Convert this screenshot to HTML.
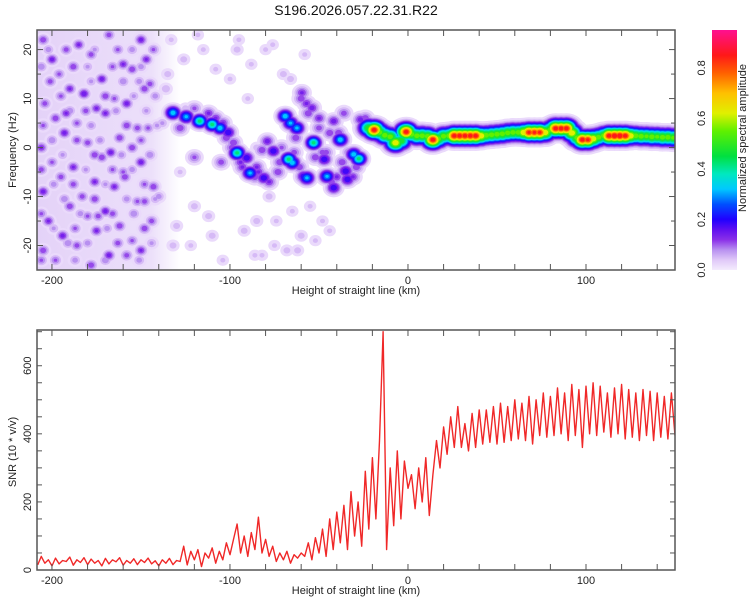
<!DOCTYPE html>
<html><head><meta charset="utf-8"><style>
html,body{margin:0;padding:0;background:#fff;}
svg{display:block;font-family:"Liberation Sans",sans-serif;}
</style></head><body>
<svg id="chart" width="750" height="600" viewBox="0 0 750 600">
<text x="356" y="15" font-size="14" text-anchor="middle" fill="#111">S196.2026.057.22.31.R22</text>
<defs>
<clipPath id="clipTop"><rect x="37" y="30" width="638" height="240"/></clipPath>
<clipPath id="clipBot"><rect x="37" y="330" width="638" height="240"/></clipPath>
<linearGradient id="cbGrad" x1="0" y1="1" x2="0" y2="0"></linearGradient>
<linearGradient id="hazeGrad" x1="0" y1="0" x2="1" y2="0">
<stop offset="0" stop-color="#e4d2f8"/><stop offset="0.8" stop-color="#ece0fa"/><stop offset="1" stop-color="#ffffff"/></linearGradient>
</defs>
<g id="topPlot">
<g clip-path="url(#clipTop)" id="heat">
<rect id="haze" y="30" height="240" fill="url(#hazeGrad)"/>
</g>
<g id="topAxes"></g>
</g>
<g id="cbar"></g>
<g id="botPlot">
<g clip-path="url(#clipBot)"><polyline id="snrLine" fill="none" stroke="#f02828" stroke-width="1.4" stroke-linejoin="round"/></g>
<g id="botAxes"></g>
</g>
</svg>
<script>
// ---------- data ----------
const xDomain = [-208.4, 150];
const fDomain = [-25, 24];
const snrDomain = [0, 705];
const cbDomain = [0, 0.95];
const xTickLabels = [-200, -100, 0, 100];
const fTickLabels = [-20, -10, 0, 10, 20];
const snrTickLabels = [0, 200, 400, 600];
const cbTickLabels = [0.0, 0.2, 0.4, 0.6, 0.8];

// noise blobs (km, Hz, amplitude)
const noiseKm = [-205,-185,-168,-150,-143,-200,-178,-160,-196,-172,-155,-145,-190,-182,-165,-148,-204,-175,-158,-198,-186,-170,-152,-193,-162,-146,-206,-180,-167,-155,-200,-188,-172,-150,-195,-176,-160,-143,-205,-183,-165,-152,-190,-170,-148,-202,-180,-162,-144,-194,-175,-155,-205,-186,-168,-150,-198,-178,-158,-192,-159,-174,-147,
 -202,-192,-176,-163,-155,-206,-188,-180,-166,-150,-201,-178,-160,-151,-195,-170,-154,-142,-190,-181,-164,-147,-205,-178,-158,-141,-200,-186,-173,-150,-194,-176,-161,-145,-206,-181,-166,-155,-199,-188,-170,-148,-193,-176,-158,-142,-206,-184,-166,-154,-199,-187,-169,-148,-191,-180,-163,-144,-206,-187,-170,-151,
 -135,-128,-120,-115,-110,-90,-85,-80,-78,-75,-70,-65,-60,-55,-48,-85,-100,-125,-140,-138,-82,-68,-95,-132,
 -133,-126,-118,-108,-96,-88,-76,-66,-58,-130,-122,-112,-104,-92,-86,-74,-62,-52,-44,-136];
const noiseHz = [22,21,23,22,20,18,19,17,15,14,16,13,12,11,10,12,9,8,9,6,5,7,4,3,2,4,0,1,-1,0,-3,-4,-2,-3,-6,-7,-5,-8,-9,-10,-8,-11,-12,-13,-11,-15,-14,-16,-15,-18,-17,-19,-21,-20,-22,-21,-23,-24,-22,7,-6,-14,18,
 20,20,20,20,20,16.5,16.5,16.5,16.5,16.5,13.5,13.5,13.5,13.5,10.5,10.5,10.5,10.5,7.5,7.5,7.5,7.5,4.5,4.5,4.5,4.5,1.5,1.5,1.5,1.5,-1.5,-1.5,-1.5,-1.5,-4.5,-4.5,-4.5,-4.5,-7.5,-7.5,-7.5,-7.5,-10.5,-10.5,-10.5,-10.5,-13.5,-13.5,-13.5,-13.5,-16.5,-16.5,-16.5,-16.5,-19.5,-19.5,-19.5,-19.5,-23,-23,-23,-23,
 15,-5,-12,20,-18,10,-15,20,-10,-20,15,-13,-18,-12,-15,0,14,8,-10,5,-22,-21,22,-20,
 22,18,23,16,20,17,21,14,19,-16,-20,-14,-23,-17,-22,-15,-21,-19,-17,12];
const noiseAmp = [0.14,0.15,0.13,0.16,0.12,0.16,0.13,0.15,0.12,0.16,0.14,0.13,0.15,0.17,0.12,0.14,0.13,0.15,0.16,0.14,0.12,0.15,0.13,0.16,0.14,0.12,0.15,0.13,0.16,0.14,0.12,0.15,0.14,0.16,0.13,0.15,0.12,0.14,0.16,0.13,0.15,0.12,0.14,0.16,0.13,0.15,0.12,0.14,0.13,0.16,0.15,0.12,0.14,0.13,0.16,0.15,0.12,0.14,0.13,0.15,0.14,0.13,0.15,
 0.1,0.13,0.09,0.12,0.1,0.11,0.14,0.09,0.12,0.1,0.13,0.09,0.11,0.1,0.12,0.14,0.09,0.1,0.11,0.13,0.1,0.09,0.12,0.1,0.14,0.09,0.11,0.13,0.1,0.12,0.09,0.14,0.1,0.11,0.13,0.09,0.12,0.1,0.1,0.13,0.09,0.12,0.11,0.14,0.1,0.09,0.12,0.1,0.13,0.11,0.09,0.12,0.1,0.14,0.11,0.1,0.13,0.09,0.12,0.1,0.11,0.1,
 0.07,0.06,0.07,0.06,0.07,0.06,0.07,0.06,0.07,0.06,0.07,0.06,0.07,0.06,0.06,0.07,0.06,0.07,0.1,0.09,0.06,0.07,0.06,0.07,
 0.06,0.07,0.06,0.06,0.07,0.06,0.06,0.07,0.06,0.07,0.06,0.07,0.06,0.07,0.06,0.06,0.07,0.06,0.06,0.08];

// wavy ridge blobs
const ridgeKm = [-132,-124.6,-117,-110,-105.6,-101,-96,-90.6,-88.7,-81,-79,-75.6,-69,-66,-62.4,-67,-65,-58.6,-56.8,-59.6,-54,-53,-47,-45.5,-41.7,-41.7,-38,-35,-34,-30.5,-27.6,-26.7,
 -128,-112,-104,-98,-93,-85,-78,-73,-63,-57,-50,-52,-44,-40,-37,-31,-25,-36,-82,-120,-105,-61,-48,-72,
 -120,-114,-108,-102,-99,-94,-86,-84,-71,-64,-60,-56,-50,-46,-43,-39,-33,-29,-24];
const ridgeHz = [7.1,6.3,5.4,4.7,4.0,3.1,-1.1,-2.1,-5.2,-6.2,1.3,-0.7,6.4,5.0,4.0,-2.4,-3.1,-5.9,-6.2,11.2,8.1,1.0,-2.4,-5.9,-8.2,5.4,1.6,-4.8,-6.5,-1.4,-2.3,5.7,
 4,7,5,1,-4,-4,-7,-5,2,9,6,-2,3,-6,-3,-6,4,7,-0.5,-2,-3,-4,-1,-3,
 8,6,6,2,0,-3,-6,-5,0,-1,10,7,4,-1,-7,3,-1,-4,6];
const ridgeAmp = [0.36,0.34,0.45,0.45,0.36,0.22,0.45,0.22,0.34,0.22,0.16,0.22,0.36,0.34,0.34,0.45,0.36,0.22,0.34,0.15,0.16,0.45,0.22,0.34,0.22,0.16,0.36,0.22,0.22,0.36,0.45,0.16,
 0.14,0.15,0.15,0.14,0.15,0.15,0.15,0.14,0.14,0.15,0.15,0.14,0.14,0.15,0.14,0.15,0.15,0.13,0.14,0.12,0.13,0.14,0.13,0.14,
 0.12,0.14,0.15,0.14,0.13,0.15,0.14,0.15,0.12,0.13,0.14,0.14,0.13,0.13,0.14,0.14,0.13,0.14,0.14];

// main band
const bandKm = [-22,-19,-16,-13,-10,-7,-4,-1,2,5,8,11,14,17,20,23,26,29,32,35,38,41,44,47,50,53,56,59,62,65,68,71,74,77,80,83,86,89,92,95,98,101,104,107,110,113,116,119,122,125,128,131,134,137,140,143,146,149];
const bandHz = [4,3.6,3.1,2.5,2.2,1,1.4,3.2,2.7,2.4,2.4,2.3,1.6,1.8,2.3,2.4,2.4,2.4,2.4,2.4,2.4,2.4,2.5,2.6,2.7,2.8,3,3.1,3.1,3.1,3.1,3.1,3.1,3.1,3.6,3.9,3.9,3.9,3,2,1.6,1.6,1.8,2.1,2.4,2.4,2.4,2.4,2.4,2.4,2.4,2.3,2.3,2.2,2.2,2.1,2.1,2.0];
const bandAmp = [0.55,0.9,0.6,0.6,0.6,0.7,0.55,0.9,0.6,0.6,0.6,0.6,0.9,0.6,0.6,0.6,0.9,0.9,0.9,0.9,0.9,0.7,0.6,0.6,0.6,0.6,0.6,0.6,0.6,0.7,0.88,0.88,0.88,0.7,0.6,0.9,0.9,0.9,0.7,0.6,0.9,0.88,0.7,0.6,0.6,0.9,0.92,0.92,0.9,0.7,0.6,0.6,0.58,0.6,0.58,0.6,0.6,0.58];

// SNR series (start km, step km, values)
const snrStartKm = -208, snrStepKm = 2;
const snrVals = [15,40,20,30,12,35,18,28,25,38,14,30,22,36,16,32,20,28,12,34,18,30,24,36,14,28,20,33,16,30,22,35,18,27,12,30,20,34,16,28,
25,70,15,55,30,60,10,50,35,65,20,55,30,80,45,
90,135,50,100,40,110,60,155,50,90,
40,70,25,50,30,55,20,45,35,50,
40,80,30,95,50,120,40,150,60,170,
80,190,60,230,100,200,70,290,120,330,
150,380,700,60,300,130,350,150,320,240,
280,180,300,200,330,160,280,380,300,420,
340,450,360,480,360,430,350,460,360,470,
370,470,375,480,370,490,375,480,380,500,
385,490,380,510,370,500,395,520,390,510,
395,535,400,520,380,545,395,530,360,540,
400,550,395,540,405,520,390,535,400,545,
385,530,390,520,380,530,395,525,380,520,
390,510,385,520,395];

// colormap stops
const cmapV = [0,0.04,0.08,0.12,0.16,0.2,0.26,0.32,0.38,0.45,0.55,0.62,0.7,0.78,0.85,0.95];
const cmapC = ['#f4ecfd','#e0c8f8','#b890f0','#8a30e8','#6010f0','#2000ff','#0050ff','#00c8ff','#00e8c0','#00e040','#60f000','#e0f000','#ffc000','#ff6000','#ff1818','#ff1090'];
const levels = [0.02,0.05,0.08,0.11,0.14,0.18,0.22,0.27,0.32,0.37,0.42,0.48,0.55,0.62,0.7,0.78,0.85,0.92];

// ---------- helpers ----------
const NS = 'http://www.w3.org/2000/svg';
const L = 37, R = 675;
const xS = v => L + (v - xDomain[0]) / (xDomain[1] - xDomain[0]) * (R - L);
const fS = v => 270 - (v - fDomain[0]) / (fDomain[1] - fDomain[0]) * 240;
const sS = v => 570 - (v - snrDomain[0]) / (snrDomain[1] - snrDomain[0]) * 240;
const cS = v => 270 - (v - cbDomain[0]) / (cbDomain[1] - cbDomain[0]) * 240;
function mk(tag, attrs, parent) { const e = document.createElementNS(NS, tag); for (const k in attrs) e.setAttribute(k, attrs[k]); parent.appendChild(e); return e; }
function hex(h){return [parseInt(h.substr(1,2),16),parseInt(h.substr(3,2),16),parseInt(h.substr(5,2),16)];}
function colorAt(v){
  if (v <= cmapV[0]) return cmapC[0];
  for (let i = 1; i < cmapV.length; i++) {
    if (v <= cmapV[i]) { const t=(v-cmapV[i-1])/(cmapV[i]-cmapV[i-1]); const a=hex(cmapC[i-1]), b=hex(cmapC[i]);
      return 'rgb('+a.map((x,j)=>Math.round(x+(b[j]-x)*t)).join(',')+')'; }
  }
  return cmapC[cmapC.length-1];
}

// haze
const haze = document.getElementById('haze');
haze.setAttribute('x', xS(-208.4));
haze.setAttribute('width', xS(-128) - xS(-208.4));

// ---------- heatmap ----------
const heat = document.getElementById('heat');
const blobs = [];
noiseKm.forEach((k,i)=>blobs.push({x:xS(k),y:fS(noiseHz[i]),a:noiseAmp[i],sx:4.2,sy:3.8}));
ridgeKm.forEach((k,i)=>blobs.push({x:xS(k),y:fS(ridgeHz[i]),a:ridgeAmp[i],sx:5,sy:4.4}));
bandKm.forEach((k,i)=>blobs.push({x:xS(k),y:fS(bandHz[i]),a:bandAmp[i],sx:6.5,sy:5.5}));
levels.forEach(t=>{
  const g = mk('g',{fill:colorAt(t)},heat);
  
  
  blobs.forEach(b=>{
    if (b.a <= t) return;
    const d = Math.sqrt(2*Math.log(b.a/t));
    const el = mk('ellipse',{cx:b.x.toFixed(1),cy:b.y.toFixed(1),rx:(b.sx*d).toFixed(2),ry:(b.sy*d).toFixed(2)},g);
    
    
  });
});

// ---------- axes ----------
function frame(parent, top, name){
  const r = mk('rect',{x:L,y:top,width:R-L,height:240,fill:'none',stroke:'#555','stroke-width':1.5},parent);
  
  
}
function xAxis(parent, top){
  for (let v=-200; v<=150; v+=20){
    const x=xS(v);
    mk('line',{x1:x,y1:top+240,x2:x,y2:top+234,stroke:'#555'},parent);
    mk('line',{x1:x,y1:top,x2:x,y2:top+6,stroke:'#555'},parent);
  }
  xTickLabels.forEach(v=>{
    const t=mk('text',{x:xS(v),y:top+254,'font-size':11,'text-anchor':'middle',fill:'#222'},parent);
    t.textContent=v;
    
    
  });
  const tt=mk('text',{x:356,y:top+264,'font-size':11,'text-anchor':'middle',fill:'#222'},parent);
  tt.textContent='Height of straight line (km)';
  
  
}
const topAxes=document.getElementById('topAxes');
frame(topAxes,30,'spectrogram-frame');
xAxis(topAxes,30);
for (let v=-25; v<=24; v+=5){
  const y=fS(v), len = v%10===0?6:4;
  mk('line',{x1:L,y1:y,x2:L+len,y2:y,stroke:'#555'},topAxes);
  mk('line',{x1:R,y1:y,x2:R-len,y2:y,stroke:'#555'},topAxes);
}
fTickLabels.forEach(v=>{
  const t=mk('text',{x:0,y:0,'font-size':11,'text-anchor':'middle',fill:'#222',transform:`translate(31,${fS(v)}) rotate(-90)`},topAxes);
  t.textContent=v;
  
  
});
{const t=mk('text',{x:0,y:0,'font-size':11,'text-anchor':'middle',fill:'#222',transform:'translate(16,150) rotate(-90)'},topAxes);
t.textContent='Frequency (Hz)';

}

// colorbar
const cbar=document.getElementById('cbar');
const grad=document.getElementById('cbGrad');
cmapV.forEach((v,i)=>{ mk('stop',{offset:(v/cbDomain[1]).toFixed(3),'stop-color':cmapC[i]},grad); });
{const r=mk('rect',{x:712,y:30,width:25,height:240,fill:'url(#cbGrad)'},cbar);

}
cbTickLabels.forEach(v=>{
  const t=mk('text',{x:0,y:0,'font-size':11,'text-anchor':'middle',fill:'#222',transform:`translate(705,${cS(v)}) rotate(-90)`},cbar);
  t.textContent=v.toFixed(1);
  
  
});
{const t=mk('text',{x:0,y:0,'font-size':11,'text-anchor':'middle',fill:'#222',transform:'translate(746,138) rotate(-90)'},cbar);
t.textContent='Normalized spectral amplitude';

}

// bottom
const botAxes=document.getElementById('botAxes');
frame(botAxes,330,'snr-frame');
xAxis(botAxes,330);
for (let v=0; v<=700; v+=50){
  const y=sS(v);
  mk('line',{x1:L,y1:y,x2:L+5,y2:y,stroke:'#555'},botAxes);
  mk('line',{x1:R,y1:y,x2:R-5,y2:y,stroke:'#555'},botAxes);
}
snrTickLabels.forEach(v=>{
  const t=mk('text',{x:0,y:0,'font-size':11,'text-anchor':'middle',fill:'#222',transform:`translate(31,${sS(v)}) rotate(-90)`},botAxes);
  t.textContent=v;
  
  
});
{const t=mk('text',{x:0,y:0,'font-size':11,'text-anchor':'middle',fill:'#222',transform:'translate(16,452) rotate(-90)'},botAxes);
t.textContent='SNR (10 * v/v)';

}

document.getElementById('snrLine').setAttribute('points',
  snrVals.map((v,i)=>xS(snrStartKm+i*snrStepKm).toFixed(1)+','+sS(v).toFixed(1)).join(' '));
</script>
</body></html>
